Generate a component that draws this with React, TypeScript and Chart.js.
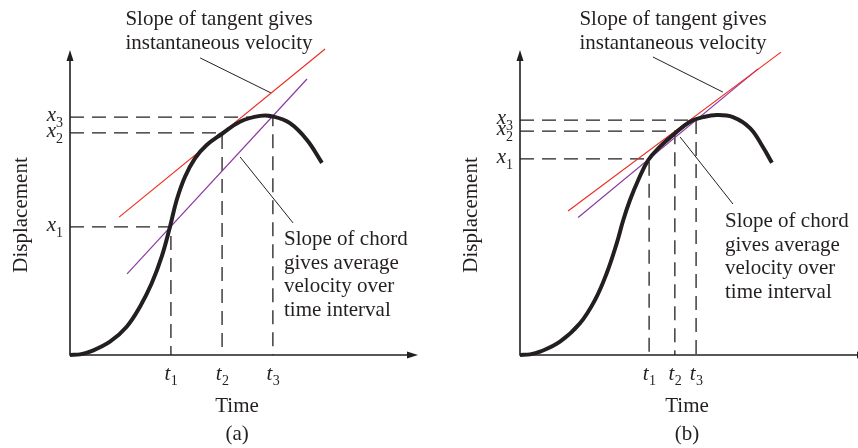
import React, { useEffect, useRef } from "react";
import { Chart, registerables } from "chart.js";

Chart.register(...registerables);

// ---------- Panel (a) ----------
const curveTimeA = [0, 0.29, 0.575, 1.149, 1.629, 2.011, 2.348, 2.635, 2.874, 3.066, 3.305, 3.592, 3.928, 4.359, 4.885, 5.46, 5.83, 6.32, 6.81, 7.24];
const curveDispA = [0, 0.02, 0.108, 0.436, 0.928, 1.584, 2.351, 3.223, 4.207, 5.082, 5.846, 6.449, 6.885, 7.246, 7.649, 7.84, 7.82, 7.6, 7.05, 6.3];
const tangentTimeA = [1.41, 7.33];
const tangentDispA = [4.52, 10.03];
const chordTimeA = [1.64, 6.81];
const chordDispA = [2.66, 9.05];
const markTimesA = [2.9, 4.37, 5.83];
const markDispA = [4.2, 7.28, 7.8];
const tangentLeaderTimeA = [3.74, 5.78];
const tangentLeaderDispA = [9.74, 8.59];
const chordLeaderTimeA = [4.89, 6.41];
const chordLeaderDispA = [6.49, 4.33];

// ---------- Panel (b) ----------
const curveTimeB = [0, 0.29, 0.575, 1.149, 1.724, 2.155, 2.491, 2.779, 2.968, 3.161, 3.399, 3.687, 4.023, 4.405, 4.885, 5.26, 5.66, 6.12, 6.61, 6.98, 7.24];
const curveDispB = [0, 0.02, 0.108, 0.436, 1.039, 1.803, 2.679, 3.662, 4.426, 5.082, 5.738, 6.393, 6.83, 7.22, 7.649, 7.8, 7.87, 7.8, 7.44, 6.82, 6.3];
const tangentTimeB = [1.38, 7.5];
const tangentDispB = [4.72, 9.93];
const chordTimeB = [1.67, 6.84];
const chordDispB = [4.51, 9.38];
const markTimesB = [3.71, 4.45, 5.06];
const markDispB = [6.43, 7.34, 7.7];
const tangentLeaderTimeB = [3.82, 5.83];
const tangentLeaderDispB = [9.77, 8.62];
const chordLeaderTimeB = [4.6, 6.12];
const chordLeaderDispB = [7.15, 4.95];

// ---------- Text ----------
const subscripts = ["1", "2", "3"];
const tangentNote = ["Slope of tangent gives", "instantaneous velocity"];
const chordNote = ["Slope of chord", "gives average", "velocity over", "time interval"];
const xTitle = "Time";
const yTitle = "Displacement";

const SERIF = '"Liberation Serif", "Times New Roman", serif';
const INK = "#231f20";

const zip = (xs: number[], ys: number[]) => xs.map((x, i) => ({ x, y: ys[i] }));

type PanelDef = {
  caption: string;
  curveT: number[];
  curveD: number[];
  tanT: number[];
  tanD: number[];
  chT: number[];
  chD: number[];
  mT: number[];
  mD: number[];
  tlT: number[];
  tlD: number[];
  clT: number[];
  clD: number[];
  canvasWidth: number;
  viewWidth: number;
  padLeft: number;
  tangentNoteX: number;
  tangentNoteY: number[];
  chordNoteX: number;
  chordNoteY: number[];
};

const panels: PanelDef[] = [
  {
    caption: "(a)",
    curveT: curveTimeA, curveD: curveDispA,
    tanT: tangentTimeA, tanD: tangentDispA,
    chT: chordTimeA, chD: chordDispA,
    mT: markTimesA, mD: markDispA,
    tlT: tangentLeaderTimeA, tlD: tangentLeaderDispA,
    clT: chordLeaderTimeA, clD: chordLeaderDispA,
    canvasWidth: 430, viewWidth: 430, padLeft: 70,
    tangentNoteX: 219, tangentNoteY: [25, 49],
    chordNoteX: 284, chordNoteY: [245, 268.5, 292, 315.5],
  },
  {
    caption: "(b)",
    curveT: curveTimeB, curveD: curveDispB,
    tanT: tangentTimeB, tanD: tangentDispB,
    chT: chordTimeB, chD: chordDispB,
    mT: markTimesB, mD: markDispB,
    tlT: tangentLeaderTimeB, tlD: tangentLeaderDispB,
    clT: chordLeaderTimeB, clD: chordLeaderDispB,
    canvasWidth: 450, viewWidth: 428, padLeft: 90,
    tangentNoteX: 243, tangentNoteY: [25, 49],
    chordNoteX: 295, chordNoteY: [227, 250.7, 274.4, 298],
  },
];

function PanelChart({ p }: { p: PanelDef }) {
  const ref = useRef<HTMLCanvasElement>(null);
  useEffect(() => {
    const canvas = ref.current!;
    const lineDefaults = { pointRadius: 0, pointHoverRadius: 0, fill: false, clip: false as any, tension: 0 };
    const datasets: any[] = [
      {
        ...lineDefaults,
        data: zip(p.curveT, p.curveD),
        borderColor: INK,
        borderWidth: 4,
        tension: 0.4,
        borderCapStyle: "butt",
        borderJoinStyle: "round",
      },
      { ...lineDefaults, data: zip(p.tanT, p.tanD), borderColor: "#ee2d24", borderWidth: 1.2 },
      { ...lineDefaults, data: zip(p.chT, p.chD), borderColor: "#8a3aa0", borderWidth: 1.2 },
      ...p.mT.map((t, i) => ({
        ...lineDefaults,
        data: [
          { x: 0, y: p.mD[i] },
          { x: t, y: p.mD[i] },
          { x: t, y: 0 },
        ],
        borderColor: INK,
        borderWidth: 1.3,
        borderDash: [14, 8],
      })),
      { ...lineDefaults, data: zip(p.tlT, p.tlD), borderColor: INK, borderWidth: 1 },
      { ...lineDefaults, data: zip(p.clT, p.clD), borderColor: INK, borderWidth: 1 },
      {
        ...lineDefaults,
        data: [
          { x: 0, y: 9.75 },
          { x: 0, y: 0 },
          { x: 9.75, y: 0 },
        ],
        borderColor: INK,
        borderWidth: 1.6,
      },
    ];

    const textPlugin = {
      id: "annotations",
      afterDraw(chart: any) {
        const ctx = chart.ctx as CanvasRenderingContext2D;
        const xs = chart.scales.x;
        const ys = chart.scales.y;
        const ox = xs.getPixelForValue(0);
        const oy = ys.getPixelForValue(0);
        ctx.save();
        ctx.fillStyle = INK;
        // arrowheads
        const topY = ys.getPixelForValue(10);
        ctx.beginPath();
        ctx.moveTo(ox, topY);
        ctx.lineTo(ox - 3.5, topY + 11);
        ctx.lineTo(ox + 3.5, topY + 11);
        ctx.closePath();
        ctx.fill();
        const rightX = xs.getPixelForValue(10);
        ctx.beginPath();
        ctx.moveTo(rightX, oy);
        ctx.lineTo(rightX - 11, oy - 3.5);
        ctx.lineTo(rightX - 11, oy + 3.5);
        ctx.closePath();
        ctx.fill();

        const italic = `italic 21px ${SERIF}`;
        const sub = `14px ${SERIF}`;
        // displacement marks
        p.mD.forEach((d, i) => {
          const y = ys.getPixelForValue(d);
          ctx.font = italic;
          const wb = ctx.measureText("x").width;
          ctx.font = sub;
          const ws = ctx.measureText(subscripts[i]).width;
          const start = ox - 7 - wb - ws;
          ctx.textAlign = "left";
          ctx.textBaseline = "alphabetic";
          ctx.font = italic;
          ctx.fillText("x", start, y + 4);
          ctx.font = sub;
          ctx.fillText(subscripts[i], start + wb, y + 10);
        });
        // time marks
        p.mT.forEach((t, i) => {
          const x = xs.getPixelForValue(t);
          ctx.font = italic;
          const wb = ctx.measureText("t").width;
          ctx.font = sub;
          const ws = ctx.measureText(subscripts[i]).width;
          const start = x - (wb + ws) / 2;
          ctx.textAlign = "left";
          ctx.textBaseline = "alphabetic";
          ctx.font = italic;
          ctx.fillText("t", start, oy + 25);
          ctx.font = sub;
          ctx.fillText(subscripts[i], start + wb + 0.5, oy + 29.5);
        });

        ctx.font = `21px ${SERIF}`;
        ctx.textBaseline = "alphabetic";
        const midX = xs.getPixelForValue(4.8);
        ctx.textAlign = "center";
        ctx.fillText(xTitle, midX, oy + 57);
        ctx.fillText(p.caption, midX, oy + 85);
        ctx.save();
        ctx.translate(ox - 43, 215);
        ctx.rotate(-Math.PI / 2);
        ctx.fillText(yTitle, 0, 0);
        ctx.restore();

        ctx.textAlign = "center";
        tangentNote.forEach((s, i) => ctx.fillText(s, p.tangentNoteX, p.tangentNoteY[i]));
        ctx.textAlign = "left";
        chordNote.forEach((s, i) => ctx.fillText(s, p.chordNoteX, p.chordNoteY[i]));
        ctx.restore();
      },
    };

    const chart = new Chart(canvas, {
      type: "line",
      data: { datasets },
      options: {
        animation: false,
        responsive: false,
        events: [],
        layout: { padding: { left: p.padLeft, right: 12, top: 50, bottom: 93 } },
        plugins: { legend: { display: false }, tooltip: { enabled: false }, title: { display: false } },
        scales: {
          x: { type: "linear", min: 0, max: 10, display: false },
          y: { type: "linear", min: 0, max: 10, display: false },
        },
      },
      plugins: [textPlugin],
    } as any);
    return () => chart.destroy();
  }, [p]);
  return (
    <div style={{ width: p.viewWidth, height: 448, overflow: "hidden", flex: "none" }}>
      <canvas ref={ref} width={p.canvasWidth} height={448} style={{ display: "block", width: p.canvasWidth, height: 448 }} />
    </div>
  );
}

export default function App() {
  useEffect(() => {
    document.body.style.margin = "0";
    document.body.style.background = "#ffffff";
  }, []);
  return (
    <div style={{ display: "flex", width: 858, height: 448, background: "#fff", overflow: "hidden" }}>
      {panels.map((p) => (
        <PanelChart key={p.caption} p={p} />
      ))}
    </div>
  );
}
